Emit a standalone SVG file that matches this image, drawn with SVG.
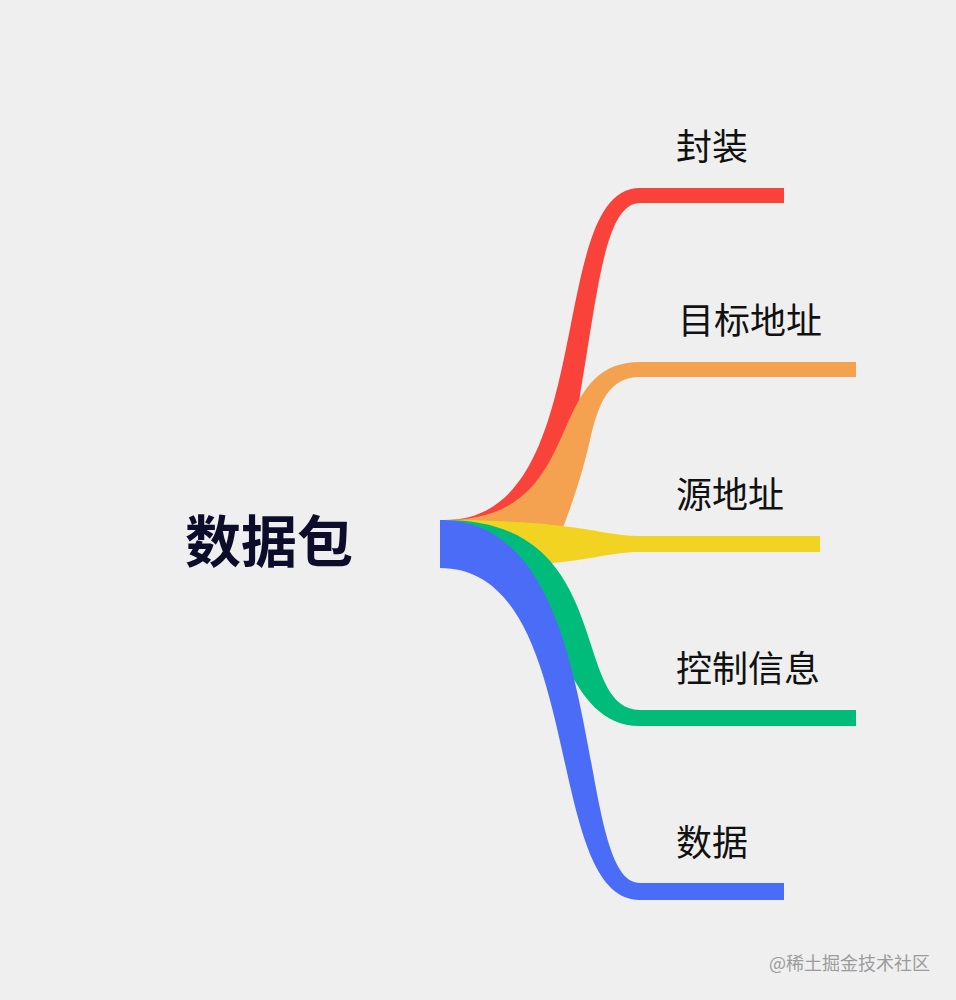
<svg xmlns="http://www.w3.org/2000/svg" width="956" height="1000" viewBox="0 0 956 1000">
<style>
.lbl{font-family:"Noto Sans CJK SC","Noto Sans",sans-serif;font-size:36px;fill:#111111}
.root{font-family:"Noto Sans CJK SC","Noto Sans",sans-serif;font-size:56px;font-weight:bold;fill:#0d0d2b}
.wm{font-family:"Noto Sans CJK SC","Liberation Sans",sans-serif;font-size:18px;fill:#9c9c9c}
.red{fill:#f9423a}.org{fill:#f4a24f}.yel{fill:#f3d321}.grn{fill:#00bc7b}.blu{fill:#4a6cf7}
</style>
<rect width="956" height="1000" fill="#efefef"/>
<g id="connectors">
<path class="red" d="M445,520 C601,520 544,188 640,188 L642,188 L642,203 L640,203 C605,203 598,290 580,395 L574,460 L552,520 Z"/>
<path class="org" d="M445,520 C591,520 540,362 640,362 L642,362 L642,377 L640,377 C608,377 598,405 590,440 C582,475 572,505 560,535 L445,522 Z"/>
<path class="yel" d="M440,520 C580,520 600,536 640,536 L642,536 L642,552 L640,552 C600,552 580,568 440,568 Z"/>
<path class="grn" d="M445,520 C618,520 569,710 640,710 L642,710 L642,726 L640,726 C540,726 560,520 440,520 Z"/>
<path class="blu" d="M440,520 C614,520 571,883 640,883 L642,883 L642,900 L640,900 C541,900 588,568 440,568 Z"/>
</g>
<g id="root">
<text class="root" x="185" y="562">数据包</text>
</g>
<g id="node-fengzhuang">
<rect class="red" x="639" y="188" width="145" height="15"/>
<text class="lbl" x="676" y="160">封装</text>
</g>
<g id="node-mubiao">
<rect class="org" x="639" y="362" width="217" height="15"/>
<text class="lbl" x="678" y="334">目标地址</text>
</g>
<g id="node-yuan">
<rect class="yel" x="639" y="536" width="181" height="16"/>
<text class="lbl" x="676" y="508">源地址</text>
</g>
<g id="node-kongzhi">
<rect class="grn" x="639" y="710" width="217" height="16"/>
<text class="lbl" x="676" y="682">控制信息</text>
</g>
<g id="node-shuju">
<rect class="blu" x="639" y="883" width="145" height="17"/>
<text class="lbl" x="676" y="856">数据</text>
</g>
<text class="wm" x="769" y="970">@稀土掘金技术社区</text>
</svg>
